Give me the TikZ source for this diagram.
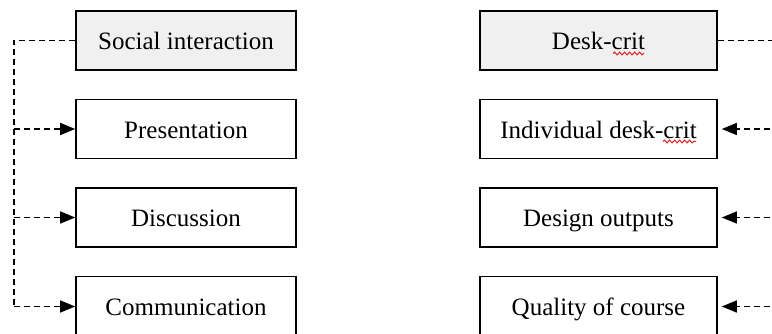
\documentclass[tikz,border=0pt]{standalone}
\usepackage{fontspec}
\setmainfont{Liberation Serif}
\usetikzlibrary{arrows.meta,decorations.pathmorphing}
\definecolor{boxgray}{HTML}{F0F0F0}
\definecolor{squig}{HTML}{E02020}
\begin{document}
\begin{tikzpicture}[x=1pt,y=-1pt,
  box/.style={draw=black,line width=1.6pt,minimum width=220pt,minimum height=59pt,inner sep=0pt,text height=19pt,text depth=0pt,font=\fontsize{25}{30}\selectfont},
  headbox/.style={box,fill=boxgray},
  link/.style={dash pattern=on 6pt off 4pt,line width=1.4pt},
  arr/.style={link,-{Triangle[length=15pt,width=12pt]}},
  wig/.style={squig,line width=1pt,decorate,decoration={snake,amplitude=1.4pt,segment length=5pt}}]
\useasboundingbox (0,0) rectangle (772,334);
\clip (0,0) rectangle (772,334);
% left column
\node[headbox] (si) at (186,40.5) {Social interaction};
\node[box] (pr) at (186,129) {Presentation};
\node[box] (di) at (186,217.5) {Discussion};
\node[box,minimum height=60pt] (co) at (186,306.5) {Communication};
% right column
\node[headbox,minimum width=237pt] (dc) at (598.5,40.5) {Desk-crit};
\node[box,minimum width=237pt] (id) at (598.5,129) {Individual desk-crit};
\node[box,minimum width=237pt] (do) at (598.5,217.5) {Design outputs};
\node[box,minimum width=237pt,minimum height=60pt] (qc) at (598.5,306.5) {Quality of course};
% left connectors
\coordinate (lt) at (14,40.5);
\coordinate (lb) at (14,306.5);
\draw[link] (si.west) -- (lt) -- (lb);
\draw[arr] (14,129) -- (pr.west);
\draw[arr] (14,217.5) -- (di.west);
\draw[arr] (lb) -- (co.west);
% right connectors
\coordinate (rt) at (790,40.5);
\coordinate (rb) at (790,306.5);
\draw[link] (dc.east) -- (rt) -- (rb);
\draw[arr,shorten >=4pt] (790,129) -- (id.east);
\draw[arr,shorten >=4pt] (790,217.5) -- (do.east);
\draw[arr,shorten >=4pt] (rb) -- (qc.east);
% spell-check underlines
\draw[wig] (613,53.5) -- (644,53.5);
\draw[wig] (663,141.5) -- (696,141.5);
\end{tikzpicture}
\end{document}
